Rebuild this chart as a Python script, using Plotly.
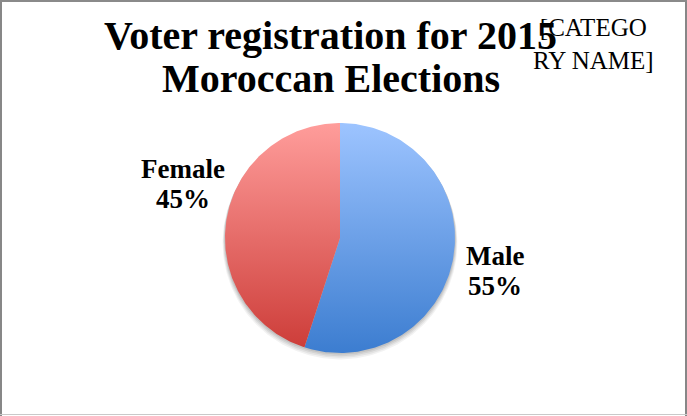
import numpy as np
import plotly.graph_objects as go

# Registration share by sex (percent)
categories = ["Male", "Female"]
values = [55, 45]

# Vertical gradient stops (top -> bottom) for each slice
slice_colors = {
    "Male": ["#9dc4ff", "#3c7dd0"],
    "Female": ["#ff9d9b", "#cc3b37"],
}

W, H = 687, 416
cx, cy, r = 340, 238, 115

fig = go.Figure()

# Soft drop shadow under the pie
for k, a in [(4, 0.05), (3, 0.06), (2, 0.07), (1, 0.08)]:
    t = np.linspace(0, 2 * np.pi, 240)
    fig.add_trace(go.Scatter(
        x=cx + (r + k * 0.6) * np.sin(t),
        y=cy + k * 1.2 - (r + k * 0.4) * np.cos(t),
        mode="lines", fill="toself", line=dict(width=0),
        fillcolor=f"rgba(0,0,0,{a})", hoverinfo="skip", showlegend=False,
    ))

total = float(sum(values))
start = 0.0
for name, v in zip(categories, values):
    span = 360.0 * v / total
    th = np.radians(np.linspace(start, start + span, 200))
    xs = np.concatenate([[cx], cx + r * np.sin(th), [cx]])
    ys = np.concatenate([[cy], cy - r * np.cos(th), [cy]])
    top, bottom = slice_colors[name]
    fig.add_trace(go.Scatter(
        x=xs, y=ys, mode="lines", fill="toself",
        line=dict(width=0),
        fillgradient=dict(
            type="vertical",
            colorscale=[[0, bottom], [1, top]],
            start=cy + r, stop=cy - r,
        ),
        name=name, showlegend=False, hoverinfo="name",
    ))
    start += span

label_font = dict(family="Liberation Serif", size=27, color="#000000")
label_pos = {"Male": (495, 256, 286), "Female": (183, 169, 199)}
annotations = []
for name, v in zip(categories, values):
    x, y1, y2 = label_pos[name]
    pct = round(100 * v / total)
    annotations.append(dict(x=x, y=y1, text=f"<b>{name}</b>", showarrow=False,
                            xref="x", yref="y", font=label_font))
    annotations.append(dict(x=x, y=y2, text=f"<b>{pct}%</b>", showarrow=False,
                            xref="x", yref="y", font=label_font))

title_font = dict(family="Liberation Serif", size=40, color="#000000")
annotations.append(dict(x=330, y=35, text="<b>Voter registration for 2015</b>",
                        showarrow=False, xref="x", yref="y", font=title_font))
annotations.append(dict(x=331, y=78, text="<b>Moroccan Elections</b>",
                        showarrow=False, xref="x", yref="y", font=title_font))
annotations.append(dict(x=593, y=44, text="[CATEGO<br>RY NAME]", align="center",
                        showarrow=False, xref="x", yref="y",
                        font=dict(family="Liberation Serif", size=25, color="#000000")))

shapes = [
    dict(type="line", xref="x", yref="y", x0=1, y0=0, x1=1, y1=416,
         line=dict(color="#878787", width=2)),
    dict(type="line", xref="x", yref="y", x0=686, y0=0, x1=686, y1=416,
         line=dict(color="#878787", width=2)),
    dict(type="line", xref="x", yref="y", x0=0, y0=1, x1=687, y1=1,
         line=dict(color="#8a8a8a", width=2)),
    dict(type="line", xref="x", yref="y", x0=0, y0=414.5, x1=687, y1=414.5,
         line=dict(color="#c9c9c9", width=1)),
]

fig.update_layout(
    width=W, height=H,
    margin=dict(l=0, r=0, t=0, b=0),
    paper_bgcolor="white", plot_bgcolor="white",
    xaxis=dict(range=[0, W], visible=False, fixedrange=True),
    yaxis=dict(range=[H, 0], visible=False, fixedrange=True),
    annotations=annotations, shapes=shapes,
    showlegend=False,
)

fig.write_html("out.html")
